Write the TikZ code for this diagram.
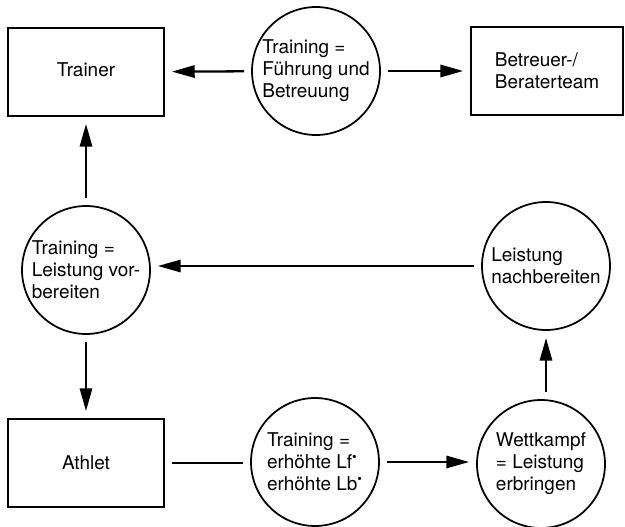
\documentclass[tikz,border=0pt]{standalone}
\usepackage{fontspec}
\setmainfont{TeX Gyre Heros}
\usepackage{tikz}
\usetikzlibrary{arrows.meta, positioning, calc}
\tikzset{
    box/.style={draw, line width=1pt, minimum width=3.12cm, minimum height=1.76cm, inner sep=0pt, font=\fontsize{10.8}{12.5}\selectfont},
    bubble/.style={draw, circle, line width=1pt, minimum size=2.56cm, inner sep=0pt, align=left, font=\fontsize{10.8}{12.5}\selectfont},
    myarrow/.style={-{Triangle[length=13pt, width=7pt]}, line width=1.3pt, shorten <=4pt, shorten >=4pt},
    plainline/.style={line width=1.3pt, shorten <=4pt, shorten >=4pt},
}

\begin{document}
\begin{tikzpicture}[x=0.02cm, y=-0.02cm]
\useasboundingbox (0,0) rectangle (625,527);

% ============================================================
% TOP ROW
% ============================================================
\node[box] (trainer) at (86,72) {\raisebox{3pt}{Trainer}};
\node[bubble] (fuehrung) at (316,71) {Training =\\Führung und\\Betreuung};
\node[box, minimum width=3.04cm, align=left] (team) at (547,71) {Betreuer-/\\Beraterteam};

\draw[myarrow] (fuehrung) -- (trainer);
\draw[myarrow] (fuehrung) -- (team);

% ============================================================
% MIDDLE ROW
% ============================================================
\node[bubble] (vorb) at (86,270) {Training =\\Leistung vor-\\bereiten};
\node[bubble] (nachb) at (546,266) {Leistung\\nachbereiten};

\draw[myarrow] (nachb.west) -- (nachb.west -| vorb.east);
\draw[myarrow] (vorb) -- (trainer);

% ============================================================
% BOTTOM ROW
% ============================================================
\node[box] (athlet) at (86,463) {Athlet};
\node[bubble] (lflb) at (315,462) {Training =\\erhöhte Lf\textsuperscript{\textbullet}\\erhöhte Lb\textsuperscript{\textbullet}};
\node[bubble] (wettk) at (541,464) {Wettkampf\\= Leistung\\erbringen};

\draw[myarrow] (vorb) -- (athlet);
\draw[plainline] (athlet.east) -- (athlet.east -| lflb.west);
\draw[myarrow] (lflb.east) -- (lflb.east -| wettk.west);
\draw[myarrow] (wettk.north -| nachb.south) -- (nachb.south);

\end{tikzpicture}
\end{document}
